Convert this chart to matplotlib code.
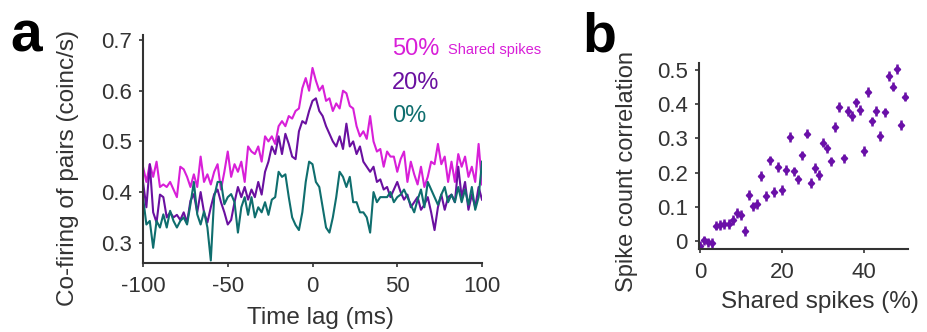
import numpy as np
import matplotlib
matplotlib.use("Agg")
from matplotlib import pyplot as plt

plt.rcParams['font.family'] = ['Liberation Sans', 'DejaVu Sans']
plt.rcParams['axes.unicode_minus'] = False

# time lag axis, 2 ms bins
lag_ms = np.arange(-100, 101, 2)

# co-firing of pairs (coinc/s)
cofire_50 = [0.45, 0.42, 0.455, 0.43, 0.46, 0.41, 0.415, 0.41, 0.42, 0.405,
             0.39, 0.45, 0.445, 0.43, 0.41, 0.435, 0.41, 0.47, 0.42, 0.435,
             0.415, 0.44, 0.455, 0.405, 0.44, 0.48, 0.43, 0.455, 0.44, 0.46,
             0.42, 0.49, 0.48, 0.475, 0.49, 0.46, 0.51, 0.5, 0.51, 0.495,
             0.53, 0.54, 0.53, 0.55, 0.545, 0.56, 0.565, 0.605, 0.625, 0.6,
             0.645, 0.62, 0.6, 0.61, 0.58, 0.585, 0.56, 0.575, 0.565, 0.6,
             0.595, 0.57, 0.565, 0.53, 0.51, 0.52, 0.505, 0.55, 0.5, 0.48,
             0.485, 0.45, 0.48, 0.47, 0.47, 0.44, 0.465, 0.48, 0.42, 0.46,
             0.435, 0.415, 0.45, 0.41, 0.43, 0.46, 0.455, 0.495, 0.455, 0.47,
             0.42, 0.46, 0.42, 0.475, 0.45, 0.47, 0.43, 0.45, 0.42, 0.495,
             0.415]
cofire_20 = [0.42, 0.37, 0.455, 0.36, 0.34, 0.395, 0.39, 0.35, 0.36, 0.35,
             0.355, 0.345, 0.36, 0.34, 0.383, 0.396, 0.36, 0.4, 0.36, 0.34,
             0.37, 0.396, 0.405, 0.38, 0.36, 0.336, 0.345, 0.38, 0.41, 0.39,
             0.41, 0.385, 0.405, 0.39, 0.42, 0.395, 0.44, 0.46, 0.49, 0.475,
             0.51, 0.475, 0.515, 0.495, 0.47, 0.465, 0.52, 0.54, 0.535, 0.56,
             0.58, 0.585, 0.56, 0.55, 0.53, 0.515, 0.5, 0.49, 0.51, 0.485,
             0.535, 0.49, 0.5, 0.475, 0.49, 0.46, 0.45, 0.44, 0.45, 0.42,
             0.425, 0.405, 0.41, 0.39, 0.405, 0.42, 0.4, 0.385, 0.395, 0.37,
             0.38, 0.39, 0.365, 0.375, 0.39, 0.36, 0.325, 0.37, 0.395, 0.365,
             0.39, 0.395, 0.38, 0.45, 0.39, 0.42, 0.365, 0.395, 0.37, 0.41,
             0.385]
cofire_0 = [0.39, 0.336, 0.343, 0.29, 0.343, 0.33, 0.356, 0.33, 0.363, 0.343,
            0.33, 0.343, 0.35, 0.336, 0.376, 0.42, 0.356, 0.336, 0.362, 0.33,
            0.265, 0.39, 0.42, 0.42, 0.376, 0.39, 0.396, 0.38, 0.32, 0.37,
            0.39, 0.355, 0.39, 0.35, 0.37, 0.36, 0.38, 0.355, 0.385, 0.39,
            0.44, 0.43, 0.435, 0.39, 0.35, 0.335, 0.325, 0.36, 0.42, 0.46,
            0.455, 0.42, 0.41, 0.37, 0.33, 0.32, 0.35, 0.39, 0.44, 0.43,
            0.41, 0.43, 0.38, 0.38, 0.36, 0.36, 0.35, 0.32, 0.4, 0.38,
            0.39, 0.39, 0.39, 0.4, 0.38, 0.39, 0.395, 0.405, 0.39, 0.375,
            0.36, 0.385, 0.405, 0.37, 0.42, 0.405, 0.39, 0.375, 0.395, 0.41,
            0.38, 0.395, 0.38, 0.41, 0.38, 0.405, 0.375, 0.41, 0.365, 0.39,
            0.46]

# panel b: spike count correlation vs shared spikes
shared_pct = np.arange(0, 51)
corr = [-0.013, 0.003, -0.003, -0.005, 0.046, 0.048, 0.051, 0.05, 0.063, 0.083,
        0.077, 0.031, 0.136, 0.102, 0.11, 0.191, 0.133, 0.236, 0.144, 0.217,
        0.15, 0.209, 0.304, 0.204, 0.181, 0.251, 0.314, 0.17, 0.214, 0.193,
        0.288, 0.271, 0.233, 0.333, 0.391, 0.242, 0.381, 0.366, 0.405, 0.383,
        0.264, 0.436, 0.35, 0.38, 0.308, 0.376, 0.483, 0.451, 0.502, 0.339,
        0.422]
corr_err = 0.014

c50 = '#d81fd8'
c20 = '#6a10a0'
c0 = '#0f6e6e'
cdot = '#6a10a8'
grey = '#333333'

W, H = 927, 332
fig = plt.figure(figsize=(W / 100, H / 100), dpi=100)

ax = fig.add_axes([143 / W, 1 - 263 / H, 339 / W, 228 / H])
ax.plot(lag_ms, cofire_50, color=c50, lw=1.5)
ax.plot(lag_ms, cofire_20, color=c20, lw=1.5)
ax.plot(lag_ms, cofire_0, color=c0, lw=1.5)
ax.set_xlim(-100, 100)
ax.set_ylim(0.26, 0.71)
ax.set_xticks([-100, -50, 0, 50, 100])
ax.set_yticks([0.3, 0.4, 0.5, 0.6, 0.7])
ax.set_yticklabels(['0.3', '0.4', '0.5', '0.6', '0.7'])

ax.text(0.735, 0.94, '50%', transform=ax.transAxes, color=c50, fontsize=17, va='center')
ax.text(0.9, 0.915, 'Shared spikes', transform=ax.transAxes, color=c50, fontsize=10.5, va='baseline')
ax.text(0.735, 0.79, '20%', transform=ax.transAxes, color=c20, fontsize=17, va='center')
ax.text(0.735, 0.645, '0%', transform=ax.transAxes, color=c0, fontsize=17, va='center')

ax2 = fig.add_axes([699 / W, 1 - 249 / H, 209 / W, 186 / H])
ax2.errorbar(shared_pct, corr, yerr=corr_err, fmt='D', ms=3.2, color=cdot,
             ecolor=cdot, elinewidth=1.8, capsize=0)
ax2.set_xlim(-0.2, 50.7)
ax2.set_ylim(-0.022, 0.52)
ax2.set_xticks([0, 20, 40])
ax2.set_yticks([0, 0.1, 0.2, 0.3, 0.4, 0.5])
ax2.set_yticklabels(['0', '0.1', '0.2', '0.3', '0.4', '0.5'])

for a in (ax, ax2):
    for s in ('top', 'right'):
        a.spines[s].set_visible(False)
    for s in ('left', 'bottom'):
        a.spines[s].set_color(grey)
        a.spines[s].set_linewidth(1.5)
    a.tick_params(direction='out', length=3, width=1.2, color=grey,
                  labelsize=16, labelcolor=grey)
    a.tick_params(axis='x', pad=6)
    a.tick_params(axis='y', pad=5)

# axis labels placed by pixel centre
fig.text(68 / W, 1 - 168 / H, 'Co-firing of pairs (coinc/s)', rotation=90,
         ha='center', va='center', fontsize=17.5, color=grey)
fig.text(320 / W, 1 - 318 / H, 'Time lag (ms)', ha='center', va='center',
         fontsize=17.5, color=grey)
fig.text(627 / W, 1 - 172 / H, 'Spike count correlation', rotation=90,
         ha='center', va='center', fontsize=17, color=grey)
fig.text(820 / W, 1 - 302 / H, 'Shared spikes (%)', ha='center', va='center',
         fontsize=17.5, color=grey)

fig.text(10 / W, 1 - 52 / H, 'a', fontsize=41, fontweight='bold', va='baseline')
fig.text(582 / W, 1 - 51 / H, 'b', fontsize=40, fontweight='bold', va='baseline')

fig.savefig('out.png', dpi=100)
